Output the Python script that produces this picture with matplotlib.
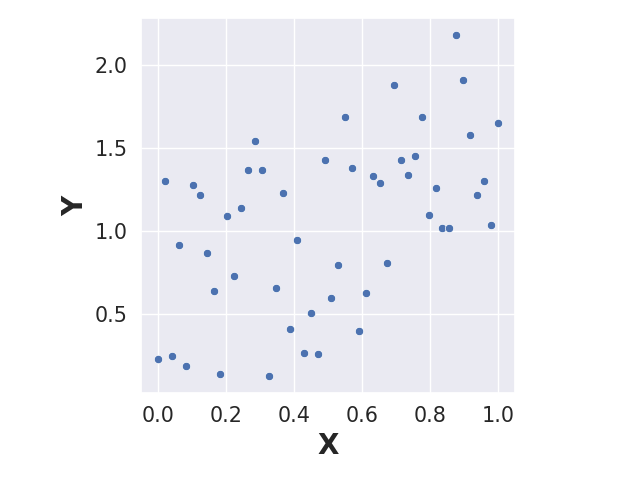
import matplotlib
matplotlib.use('Agg')
import matplotlib.pyplot as plt
import numpy as np
import seaborn as sns

x = np.linspace(0, 1, 50)
y = [0.23, 1.30, 0.25, 0.92, 0.19, 1.28, 1.22, 0.87, 0.64, 0.14,
     1.09, 0.73, 1.14, 1.37, 1.54, 1.37, 0.13, 0.66, 1.23, 0.41,
     0.95, 0.27, 0.51, 0.26, 1.43, 0.60, 0.80, 1.69, 1.38, 0.40,
     0.63, 1.33, 1.29, 0.81, 1.88, 1.43, 1.34, 1.45, 1.69, 1.10,
     1.26, 1.02, 1.02, 2.18, 1.91, 1.58, 1.22, 1.30, 1.04, 1.65]

sns.set_theme(style='darkgrid', font_scale=1.36)

fig = plt.figure(figsize=(6.4, 4.8))
ax = fig.add_axes([141 / 640, 87 / 480, 374 / 640, 375 / 480])
sns.scatterplot(x=x, y=y, ax=ax)
ax.set_xticks([0.0, 0.2, 0.4, 0.6, 0.8, 1.0])
ax.set_yticks([0.5, 1.0, 1.5, 2.0])
ax.set_xlabel('X', fontsize=20, fontweight='bold')
ax.set_ylabel('Y', fontsize=20, fontweight='bold')

plt.savefig('out.png', dpi=100)
plt.close()
